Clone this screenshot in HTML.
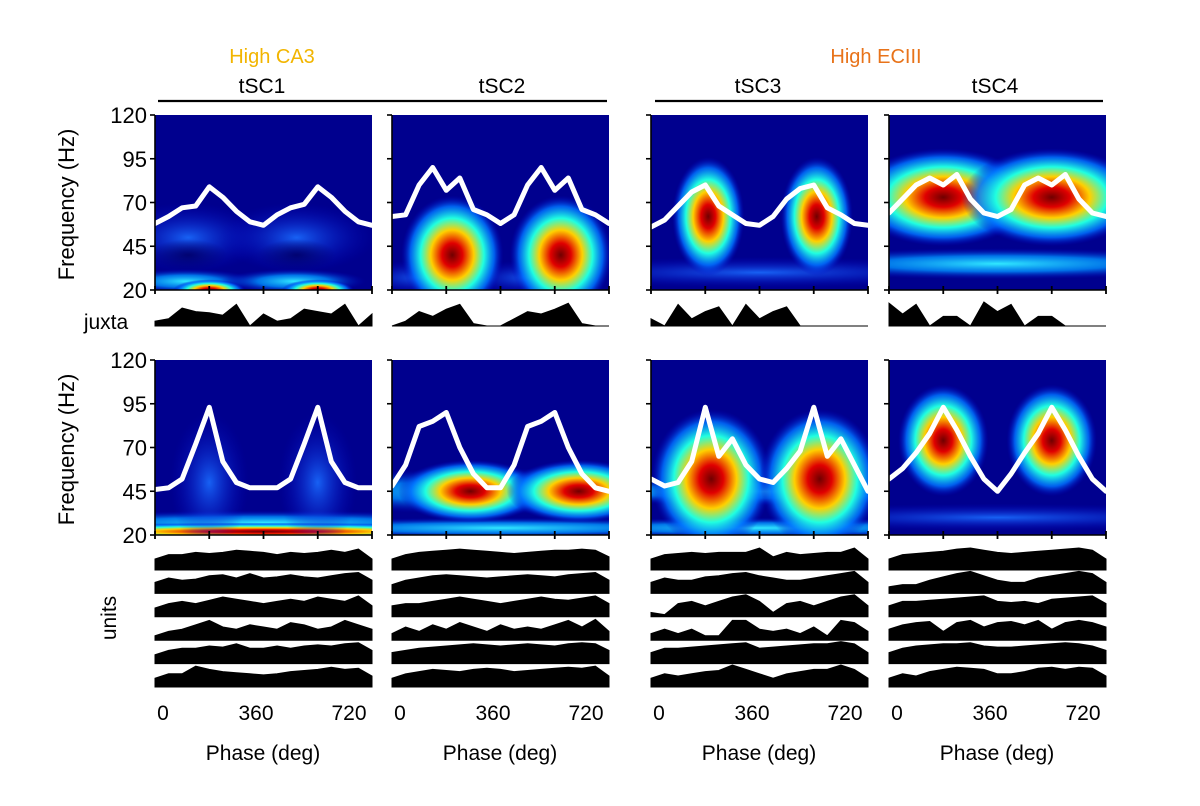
<!DOCTYPE html>
<html><head><meta charset="utf-8">
<style>
html,body{margin:0;padding:0;background:#fff;}
svg{display:block;font-family:"Liberation Sans",Arial,sans-serif;}
</style></head>
<body>
<svg id="fig" width="1200" height="806" viewBox="0 0 1200 806" xmlns="http://www.w3.org/2000/svg">
<defs>
  <radialGradient id="g-hot"><stop offset="0" stop-color="#700000"/><stop offset="0.2" stop-color="#e00000"/><stop offset="0.42" stop-color="#ffd000"/><stop offset="0.62" stop-color="#20ffe0"/><stop offset="0.82" stop-color="#0070ff" stop-opacity="0.85"/><stop offset="1" stop-color="#0000c0" stop-opacity="0"/></radialGradient>
  <radialGradient id="g-mid"><stop offset="0" stop-color="#ff6000"/><stop offset="0.3" stop-color="#ffee00"/><stop offset="0.55" stop-color="#20ffe0"/><stop offset="0.8" stop-color="#0070ff" stop-opacity="0.7"/><stop offset="1" stop-color="#0000c0" stop-opacity="0"/></radialGradient>
  <radialGradient id="g-low"><stop offset="0" stop-color="#30e8ff"/><stop offset="0.5" stop-color="#0090ff" stop-opacity="0.8"/><stop offset="1" stop-color="#0000c0" stop-opacity="0"/></radialGradient>
  <radialGradient id="g-faint"><stop offset="0" stop-color="#1a6cff" stop-opacity="0.9"/><stop offset="1" stop-color="#0000c0" stop-opacity="0"/></radialGradient>
  <radialGradient id="g-dark"><stop offset="0" stop-color="#00006a" stop-opacity="0.9"/><stop offset="1" stop-color="#00006a" stop-opacity="0"/></radialGradient>
</defs>
<g id="root"></g>
</svg>
<script>
// ---- data ----
const panelNames = ["tSC1","tSC2","tSC3","tSC4"];
const freqTicks = [20,45,70,95,120];
const phaseTickLabels = ["0","360","720"];
const linePhases = [0,45,90,135,180,225,270,315,360,405,450,495,540,585,630,675,720];
// white ridge lines (Hz) — top row
const lineTop1 = [58,62,67,68,79,73,65,59,57,63,67,69,79,73,65,59,57];
const lineTop2 = [62,63,80,90,77,84,66,63,58,63,80,90,77,84,66,63,58];
const lineTop3 = [56,60,68,76,80,68,63,58,57,62,72,78,80,67,63,58,57];
const lineTop4 = [64,72,80,84,80,86,72,64,62,66,80,84,80,86,72,64,62];
// bottom row
const lineBot1 = [46,47,52,72,93,62,50,47,47,47,52,72,93,62,50,47,47];
const lineBot2 = [48,60,82,85,90,70,55,47,47,60,82,85,90,70,55,47,45];
const lineBot3 = [52,48,50,62,93,65,75,60,52,50,58,68,93,65,75,60,45];
const lineBot4 = [52,58,67,78,93,80,65,52,45,55,67,78,93,80,65,52,45];
// blobs: [phase, freq, phaseSpread, freqSpread, level] (drawn in order)
const blobsTop1 = [[110,50,260,20,"faint"],[470,50,260,20,"faint"],[100,25,240,7,"low"],[460,25,240,7,"low"],[180,20,120,6,"hot"],[540,20,120,6,"hot"],[110,40,130,9,"dark"],[470,40,130,9,"dark"]];
const blobsTop2 = [[100,27,240,10,"faint"],[460,27,240,10,"faint"],[200,40,170,34,"hot"],[560,40,170,34,"hot"]];
const blobsTop3 = [[360,30,800,9,"faint"],[190,62,120,34,"hot"],[550,62,120,34,"hot"]];
const blobsTop4 = [[360,35,800,9,"low"],[180,73,300,28,"hot"],[540,73,300,28,"hot"]];
const blobsBot1 = [[360,27,900,7,"low"],[360,22,900,5,"hot"],[180,50,130,40,"faint"],[540,50,130,40,"faint"]];
const blobsBot2 = [[360,45,900,13,"low"],[360,24,900,6,"low"],[260,45,240,18,"hot"],[620,45,240,18,"hot"]];
const blobsBot3 = [[360,45,900,8,"low"],[360,24,900,6,"low"],[200,52,200,40,"hot"],[560,52,200,40,"hot"]];
const blobsBot4 = [[360,30,900,8,"faint"],[180,74,150,32,"hot"],[540,74,150,32,"hot"]];
// juxta firing histograms (0..1)
const juxta1 = [0.2,0.3,0.75,0.6,0.55,0.45,0.9,0,0.5,0.2,0.3,0.7,0.6,0.5,0.9,0,0.5];
const juxta2 = [0,0.2,0.6,0.4,0.7,0.9,0.1,0,0,0.3,0.6,0.5,0.7,0.95,0.1,0,0];
const juxta3 = [0.3,0,0.9,0.3,0.6,0.8,0,0.9,0.3,0.6,0.8,0,0,0,0,0,0];
const juxta4 = [0.95,0.5,0.9,0,0.4,0.4,0,1,0.6,0.9,0,0.4,0.4,0,0,0,0];
// units histograms (6 rows per panel)
const units1 = [[0.5,0.7,0.7,0.8,0.75,0.8,0.9,0.85,0.8,0.7,0.8,0.75,0.8,0.9,0.8,0.95,0.5],
[0.5,0.7,0.6,0.65,0.8,0.85,0.7,0.9,0.7,0.75,0.85,0.75,0.7,0.8,0.9,0.95,0.6],
[0.4,0.6,0.7,0.6,0.75,0.9,0.8,0.7,0.6,0.7,0.8,0.7,0.9,0.8,0.7,0.95,0.5],
[0.2,0.4,0.5,0.7,0.9,0.6,0.5,0.7,0.6,0.5,0.8,0.7,0.5,0.6,0.9,0.7,0.5],
[0.4,0.6,0.7,0.7,0.8,0.75,0.9,0.7,0.7,0.8,0.7,0.8,0.85,0.8,0.9,0.95,0.6],
[0.4,0.6,0.6,0.95,0.8,0.7,0.65,0.6,0.55,0.6,0.7,0.75,0.8,0.9,0.8,0.85,0.5]];
const units2 = [[0.5,0.7,0.8,0.85,0.9,0.95,0.9,0.85,0.8,0.75,0.8,0.85,0.9,0.9,0.95,0.9,0.6],
[0.4,0.6,0.7,0.8,0.85,0.8,0.75,0.7,0.75,0.8,0.85,0.8,0.75,0.85,0.9,0.95,0.6],
[0.5,0.6,0.6,0.7,0.8,0.9,0.8,0.7,0.6,0.7,0.8,0.9,0.8,0.75,0.85,0.95,0.6],
[0.3,0.6,0.4,0.7,0.5,0.8,0.6,0.4,0.7,0.5,0.6,0.5,0.7,0.9,0.6,0.95,0.4],
[0.5,0.6,0.7,0.75,0.8,0.85,0.9,0.85,0.8,0.85,0.9,0.85,0.8,0.9,0.95,0.9,0.6],
[0.4,0.6,0.7,0.8,0.75,0.7,0.8,0.85,0.8,0.7,0.75,0.8,0.85,0.9,0.85,0.95,0.5]];
const units3 = [[0.5,0.7,0.75,0.8,0.75,0.8,0.8,0.8,1,0.6,0.8,0.7,0.75,0.8,0.8,1,0.5],
[0.5,0.7,0.6,0.6,0.75,0.8,0.9,0.95,0.8,0.7,0.6,0.6,0.7,0.8,0.9,1,0.5],
[0.2,0.1,0.6,0.7,0.5,0.7,0.9,1,0.7,0.2,0.6,0.7,0.5,0.7,0.9,1,0.5],
[0.3,0.5,0.3,0.5,0.2,0.2,0.9,0.9,0.5,0.4,0.5,0.3,0.6,0.2,0.9,0.8,0.4],
[0.5,0.7,0.7,0.75,0.8,0.85,0.9,0.95,0.7,0.75,0.8,0.85,0.9,0.9,1,0.9,0.5],
[0.4,0.6,0.5,0.6,0.7,0.75,1,0.8,0.6,0.4,0.6,0.7,0.8,0.8,1,0.8,0.4]];
const units4 = [[0.5,0.7,0.75,0.8,0.85,0.95,1,0.9,0.8,0.75,0.8,0.85,0.9,0.95,1,0.9,0.5],
[0.3,0.4,0.4,0.6,0.75,0.9,1,0.8,0.6,0.5,0.5,0.7,0.8,0.9,1,0.9,0.5],
[0.5,0.7,0.7,0.75,0.8,0.85,0.9,0.95,0.7,0.65,0.7,0.6,0.8,0.85,0.9,0.95,0.6],
[0.5,0.7,0.8,0.85,0.4,0.8,0.9,0.6,0.8,0.85,0.7,0.9,0.5,0.8,0.9,0.8,0.6],
[0.5,0.7,0.8,0.85,0.9,0.9,0.95,0.8,0.75,0.75,0.8,0.85,0.9,0.95,0.9,0.8,0.6],
[0.4,0.6,0.5,0.7,0.8,0.9,0.85,0.8,0.6,0.6,0.7,0.85,0.9,0.8,0.9,0.85,0.5]];

// ---- layout ----
const NS="http://www.w3.org/2000/svg";
const root=document.getElementById('root');
const panelX=[155,392,651,889], panelW=217;
const rowTop=[115,360], panelH=175;
const topLines=[lineTop1,lineTop2,lineTop3,lineTop4], botLines=[lineBot1,lineBot2,lineBot3,lineBot4];
const topBlobs=[blobsTop1,blobsTop2,blobsTop3,blobsTop4], botBlobs=[blobsBot1,blobsBot2,blobsBot3,blobsBot4];
const juxtas=[juxta1,juxta2,juxta3,juxta4], unitsAll=[units1,units2,units3,units4];
function mk(tag,attrs,parent){const e=document.createElementNS(NS,tag);for(const k in attrs)e.setAttribute(k,attrs[k]);(parent||root).appendChild(e);return e;}
function txt(s,x,y,size,fill,anchor,parent){const t=mk('text',{x:x,y:y,'font-size':size,fill:fill||'#000','text-anchor':anchor||'middle'},parent);t.textContent=s;return t;}
const xScale=(p,i)=>panelX[i]+p/720*panelW;
const yScale=(f,r)=>rowTop[r]+panelH-(f-20)/100*panelH;

let t=txt("High CA3",272,63,20,"#f2b500");
t=txt("High ECIII",876,63,20,"#e8731a");
let l=mk('line',{x1:158,y1:101,x2:607,y2:101,stroke:'#000','stroke-width':2.2});
l=mk('line',{x1:655,y1:101,x2:1103,y2:101,stroke:'#000','stroke-width':2.2});
const nameX=[262,502,758,995];
panelNames.forEach((n,i)=>{const e=txt(n,nameX[i],93,21,'#000');});

[0,1].forEach(r=>{
  freqTicks.forEach(f=>{const e=txt(String(f),147,yScale(f,r)+8,22,'#000','end');});
  const g=mk('text',{x:0,y:0,'font-size':22,'text-anchor':'middle',transform:`translate(74,${rowTop[r]+panelH/2+2}) rotate(-90)`});
  g.textContent="Frequency (Hz)";
  
  
});
t=txt("juxta",106,329,21,'#000');
t=mk('text',{x:0,y:0,'font-size':21,'text-anchor':'middle',transform:'translate(116,618) rotate(-90)'});t.textContent="units";



for(let i=0;i<4;i++){
  for(let r=0;r<2;r++){
    const g=mk('g',{});
    
    
    const cid=`clip${i}${r}`;
    const cp=mk('clipPath',{id:cid},g);mk('rect',{x:panelX[i],y:rowTop[r],width:panelW,height:panelH},cp);
    const inner=mk('g',{'clip-path':`url(#${cid})`},g);
    const bg=mk('rect',{x:panelX[i],y:rowTop[r],width:panelW,height:panelH,fill:'#00008e'},inner);
    
    
    (r?botBlobs:topBlobs)[i].forEach(b=>{
      const e=mk('ellipse',{cx:xScale(b[0],i),cy:yScale(b[1],r),rx:b[2]/720*panelW,ry:b[3]/100*panelH,fill:`url(#g-${b[4]})`},inner);
      
      
    });
    const line=(r?botLines:topLines)[i];
    const pts=line.map((f,k)=>xScale(linePhases[k],i).toFixed(1)+','+yScale(f,r).toFixed(1)).join(' ');
    const pl=mk('polyline',{points:pts,fill:'none',stroke:'#fff','stroke-width':5,'stroke-linejoin':'round','stroke-linecap':'round'},inner);
    
    
    const ax=mk('path',{d:`M${panelX[i]},${rowTop[r]} V${rowTop[r]+panelH} H${panelX[i]+panelW}`,fill:'none',stroke:'#000','stroke-width':1.6},g);
    
    
    freqTicks.forEach(f=>{mk('line',{x1:panelX[i]-5,x2:panelX[i],y1:yScale(f,r),y2:yScale(f,r),stroke:'#000','stroke-width':1.6},g);});
    [0,180,360,540,720].forEach(p=>{mk('line',{x1:xScale(p,i),x2:xScale(p,i),y1:rowTop[r]+panelH-4,y2:rowTop[r]+panelH+4,stroke:'#000','stroke-width':1.8},g);});
  }
  drawHist(juxtas[i],i,326,24,'juxta-histogram');
  unitsAll[i].forEach((u,k)=>drawHist(u,i,570+k*23.4,22,'unit-histogram-'+(k+1)));
  const lx=[panelX[i]+8,panelX[i]+101,panelX[i]+194];
  phaseTickLabels.forEach((s,k)=>{const e=txt(s,lx[k],720,21,'#000');});
  const e=txt("Phase (deg)",panelX[i]+108,760,21,'#000');
  
  
}
function drawHist(vals,i,base,h,name){
  const n=vals.length;
  let d=`M${panelX[i]},${base}`;
  vals.forEach((v,k)=>{d+=` L${(panelX[i]+k/(n-1)*panelW).toFixed(1)},${(base-v*h).toFixed(1)}`;});
  d+=` L${panelX[i]+panelW},${base} Z`;
  const p=mk('path',{d:d,fill:'#000',stroke:'#000','stroke-width':1});
  
  
}
</script>
</body></html>
